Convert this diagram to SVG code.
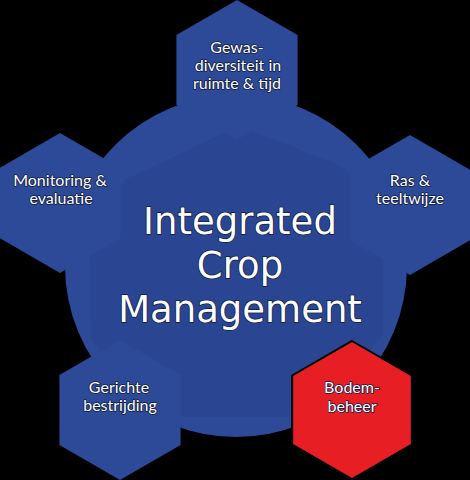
<svg xmlns="http://www.w3.org/2000/svg" width="470" height="480" viewBox="0 0 470 480">
<style>
.hex{fill:#2c4a98}
.red{fill:#e81e25;stroke:#000;stroke-width:2}
.lbl{font-family:Lato,"Liberation Sans",sans-serif;font-size:16px;fill:#fff;stroke:#101a40;stroke-width:1.6;paint-order:stroke;stroke-linejoin:round;text-anchor:middle}
.title{font-family:"DejaVu Sans",sans-serif;font-size:37px;fill:#fff;stroke:#101a40;stroke-width:1.5;paint-order:stroke;text-anchor:middle}
</style>
<rect width="470" height="480" fill="#000"/>
<g id="hub">
<circle cx="236" cy="266" r="171" fill="#2c4a98"/>
<polygon points="240,142 336,180 368,256 368,330 296,402 179,402 106,334 105,253 134,192" fill="#2a4692" stroke="#2a4692" stroke-width="30" stroke-linejoin="round"/>
</g>
<g id="n-gewas">
<polygon class="hex" points="237,0 297.6,35 297.6,105 237,140 176.4,105 176.4,35"/>
<text class="lbl" x="237" y="53">Gewas-</text>
<text class="lbl" x="238" y="71">diversiteit in</text>
<text class="lbl" x="237" y="89">ruimte &amp; tijd</text>
</g>
<g id="n-monitoring">
<polygon class="hex" points="60,133 120.6,168 120.6,238 60,273 -0.6,238 -0.6,168"/>
<text class="lbl" x="60" y="186">Monitoring &amp;</text>
<text class="lbl" x="61" y="204">evaluatie</text>
</g>
<g id="n-ras">
<polygon class="hex" points="410,135 470.6,170 470.6,240 410,275 349.4,240 349.4,170"/>
<text class="lbl" x="410" y="186">Ras &amp;</text>
<text class="lbl" x="410" y="204">teeltwijze</text>
</g>
<g id="n-gerichte">
<polygon class="hex" points="120,340 180.6,375 180.6,445 120,480 59.4,445 59.4,375"/>
<text class="lbl" x="119" y="393">Gerichte</text>
<text class="lbl" x="120" y="411">bestrijding</text>
</g>
<g id="n-bodem">
<polygon class="red" points="352,341 411.8,375.5 411.8,444.5 352,479 292.2,444.5 292.2,375.5"/>
<text class="lbl" x="352" y="393">Bodem-</text>
<text class="lbl" x="352" y="412">beheer</text>
</g>
<g id="title">
<text class="title" x="240" y="234">Integrated</text>
<text class="title" x="240" y="278">Crop</text>
<text class="title" x="240" y="322">Management</text>
</g>
</svg>
